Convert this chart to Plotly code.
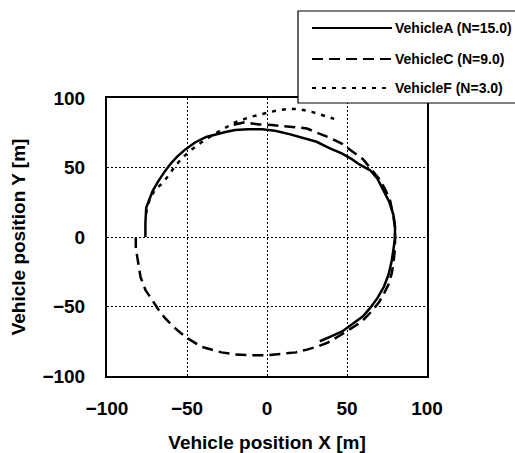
import plotly.graph_objects as go

# ---- data ----
a_x = [-76, -76, -75.5, -73, -71.5, -68, -64, -60, -56, -51, -45, -38, -32, -26, -20, -12, -3, 5, 14, 22,
       31, 39, 47, 53, 58, 64.5, 69, 73, 76.5, 79, 80, 80, 79, 78, 76, 73, 69, 64.5, 60, 54, 47, 39, 33]
a_y = [0, 10, 21, 28, 33, 40, 47, 53, 58, 63, 68, 72, 74, 75.5, 77, 77.5, 77.5, 76.5, 74, 71.5,
       68.5, 64, 60, 56, 52, 48, 42, 33, 25, 16, 8, -1, -9, -17, -27, -36, -44, -51, -57, -62, -68, -72, -75]

c_x = [-82, -82, -81, -79, -76, -71.5, -68, -64, -59, -54, -48, -41, -35, -28.5, -20, -11, 1, 10, 18, 25,
       31, 38, 44, 49, 55, 60, 65, 70, 73, 76, 78, 79, 80, 80, 80, 79, 77, 74, 70, 65, 60, 54, 47, 40,
       33, 25, 18, 10, 3, -5, -14, -22]
c_y = [0, -8, -15, -29, -38, -46, -52, -58, -64, -69, -74, -79, -81, -83, -84.5, -85, -85, -84, -83, -81,
       -79, -76, -72, -68.5, -64, -60, -54, -47, -41, -34, -26, -19, -8, 0, 6.5, 15, 26, 34, 42, 49, 56, 61, 67, 71,
       74, 78, 79, 80, 80.5, 81, 82.5, 80.5]

f_x = [-75.5, -75, -73, -70, -66, -62, -58, -53, -47, -40, -33, -27, -20, -10, -2, 6, 12, 20, 28, 34, 42]
f_y = [17, 21, 28, 34, 38, 43.5, 50, 57, 63, 69, 74, 78, 82.5, 86.5, 89, 91, 92, 92, 90, 88, 85]

names = ["VehicleA (N=15.0)", "VehicleC (N=9.0)", "VehicleF (N=3.0)"]
dashes = ["solid", "11px,6px", "4px,6px"]

tick_vals = [-100, -50, 0, 50, 100]

# ---- layout constants (pixels) ----
W, H = 515, 453
L, R, T, B = 107, 88, 98, 77
PW, PH = W - L - R, H - T - B


def px_x(p):
    return (p - L) / PW


def px_y(p):
    return (H - B - p) / PH


FONT = "Liberation Sans, Arial, sans-serif"

fig = go.Figure()
for xs, ys, nm, ds in zip([a_x, c_x, f_x], [a_y, c_y, f_y], names, dashes):
    fig.add_trace(go.Scatter(x=xs, y=ys, mode="lines", name=nm,
                             line=dict(color="black", width=2.5, dash=ds),
                             showlegend=False))

axis_common = dict(
    range=[-100, 100], tickvals=tick_vals, showgrid=True, gridcolor="black",
    griddash="2px,2px", gridwidth=1, zeroline=False, showline=True,
    linecolor="black", linewidth=2, mirror=True, ticks="", automargin=False,
    tickfont=dict(family=FONT, size=19, color="black", weight="bold"),
)

fig.update_layout(
    width=W, height=H, autosize=False,
    margin=dict(l=L, r=R, t=T, b=B, pad=0),
    paper_bgcolor="white", plot_bgcolor="white",
    xaxis=dict(**axis_common, ticklabelstandoff=14,
               title=dict(text="Vehicle position X [m]", standoff=24,
                          font=dict(family=FONT, size=19, color="black", weight="bold"))),
    yaxis=dict(**axis_common, ticklabelstandoff=16,
               title=dict(text="Vehicle position Y [m]", standoff=12,
                          font=dict(family=FONT, size=19, color="black", weight="bold"))),
    showlegend=False,
)

# ---- manual legend box (long line samples like the reference) ----
shapes = [dict(type="rect", xref="paper", yref="paper",
               x0=px_x(298), x1=px_x(540), y0=px_y(103), y1=px_y(11),
               line=dict(color="black", width=1.2), fillcolor="white", layer="above")]
annotations = []
rows = [28, 59, 88]
for nm, ds, ry in zip(names, dashes, rows):
    shapes.append(dict(type="line", xref="paper", yref="paper",
                       x0=px_x(312), x1=px_x(392), y0=px_y(ry), y1=px_y(ry),
                       line=dict(color="black", width=2, dash=ds), layer="above"))
    annotations.append(dict(xref="paper", yref="paper", x=px_x(393), y=px_y(ry),
                            text=nm, showarrow=False, xanchor="left", yanchor="middle",
                            font=dict(family=FONT, size=14, color="black", weight="bold")))
fig.update_layout(shapes=shapes, annotations=annotations)

fig.write_html("out.html")
